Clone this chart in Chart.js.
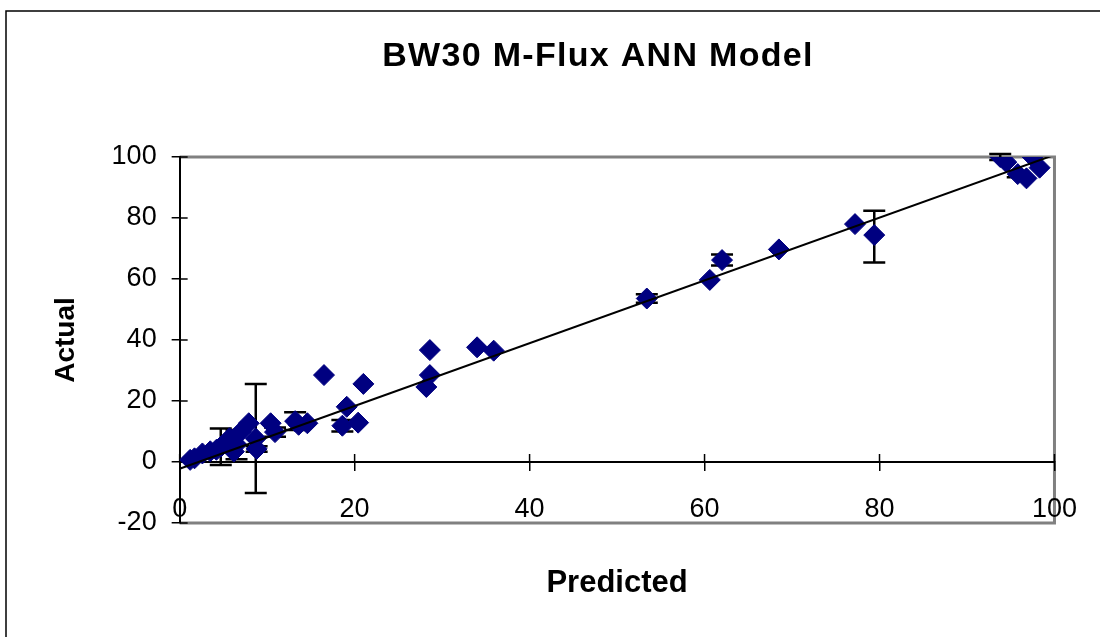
<!DOCTYPE html>
<html>
<head>
<meta charset="utf-8">
<title>BW30 M-Flux ANN Model</title>
<script src="https://cdn.jsdelivr.net/npm/chart.js@4.4.0/dist/chart.umd.min.js"></script>
<style>
  html, body { margin: 0; padding: 0; background: #fff; overflow: hidden; }
  canvas { display: block; }
</style>
</head>
<body>
<canvas id="meuGrafico" width="1100" height="637"></canvas>
<script>
// Valores (Predicted x Actual)
var previsto = [1.2, 1.7, 2.6, 3.5, 4.2, 4.7, 5.3, 5.7, 6.2, 6.5, 7.0, 7.9, 8.7, 8.8, 10.4, 10.9, 13.2, 13.6, 14.6, 16.5,
                18.6, 19.1, 20.4, 21.0, 28.2, 28.6, 28.6, 34.0, 35.9, 53.4, 60.6, 62.0, 68.5, 77.2, 79.4,
                93.8, 94.5, 95.8, 96.8, 97.5, 98.3];
var real     = [0.7, 1.2, 2.8, 3.5, 4.0, 5.0, 6.2, 7.8, 3.4, 5.7, 9.9, 12.7, 7.7, 4.3, 12.7, 9.8, 13.4, 12.2, 12.7, 28.5,
                11.9, 18.1, 12.9, 25.6, 24.6, 28.5, 36.7, 37.6, 36.5, 53.6, 59.7, 66.2, 69.7, 78.0, 74.4,
                100.0, 98.3, 94.4, 93.0, 100.0, 96.5];
// Barras de erro (para cima / para baixo), 0 = sem barra
var erroMais  = [0, 0, 0, 0, 0, 6, 0, 0, 0, 4.8, 0, 0, 17.9, 0.9, 0, 1.5, 2.9, 0, 0, 0,
                 1.9, 0, 0, 0, 0, 0, 0, 0, 0, 1.4, 0, 1.8, 0, 0, 8,
                 1, 0, 1, 0, 0, 0];
var erroMenos = [0, 0, 0, 0, 0, 6, 0, 0, 0, 4.8, 0, 0, 17.9, 0.9, 0, 1.5, 2.9, 0, 0, 0,
                 1.9, 0, 0, 0, 0, 0, 0, 0, 0, 1.4, 0, 1.8, 0, 0, 9,
                 1, 0, 1, 0, 0, 0];
// Linha de tendência
var tendenciaX = [0, 100];
var tendenciaY = [-2.2, 100.7];
// Rótulos dos eixos
var ticksX = [0, 20, 40, 60, 80, 100];
var ticksY = [-20, 0, 20, 40, 60, 80, 100];

var fonte = '"Liberation Sans", Arial, sans-serif';

// Moldura externa e contorno cinza da área do gráfico
var molduraPlugin = {
    id: 'moldura',
    beforeDraw: function (chart) {
        var ctx = chart.ctx;
        var a = chart.chartArea;
        ctx.save();
        ctx.fillStyle = '#fff';
        ctx.fillRect(0, 0, chart.width, chart.height);
        ctx.strokeStyle = '#000';
        ctx.lineWidth = 1.5;
        ctx.strokeRect(6, 11, chart.width + 20, chart.height + 20);
        ctx.strokeStyle = '#808080';
        ctx.lineWidth = 3;
        ctx.beginPath();
        ctx.moveTo(a.left, a.top);
        ctx.lineTo(a.right, a.top);
        ctx.lineTo(a.right, a.bottom);
        ctx.lineTo(a.left, a.bottom);
        ctx.stroke();
        ctx.restore();
    },
    afterDraw: function (chart) {
        // título (centrado como no original)
        var ctx = chart.ctx;
        ctx.save();
        ctx.fillStyle = '#000';
        ctx.font = 'bold 34px ' + fonte;
        ctx.letterSpacing = '1.3px';
        ctx.textAlign = 'center';
        ctx.textBaseline = 'middle';
        ctx.fillText('BW30 M-Flux ANN Model', 598, 57);
        ctx.restore();
    }
};

// Barras de erro e metade interna das marcas dos eixos
var barrasErroPlugin = {
    id: 'barrasErro',
    beforeDatasetsDraw: function (chart) {
        var ctx = chart.ctx;
        var sx = chart.scales.x;
        var sy = chart.scales.y;
        ctx.save();
        ctx.strokeStyle = '#000';
        ctx.lineWidth = 2.5;
        ctx.beginPath();
        previsto.forEach(function (p, i) {
            if (!erroMais[i] && !erroMenos[i]) return;
            var px = sx.getPixelForValue(p);
            var topo = sy.getPixelForValue(real[i] + erroMais[i]);
            var base = sy.getPixelForValue(real[i] - erroMenos[i]);
            ctx.moveTo(px, topo); ctx.lineTo(px, base);
            ctx.moveTo(px - 11, topo); ctx.lineTo(px + 11, topo);
            ctx.moveTo(px - 11, base); ctx.lineTo(px + 11, base);
        });
        ctx.stroke();

        ctx.lineWidth = 1.5;
        ctx.beginPath();
        var y0 = sy.getPixelForValue(0);
        ticksX.forEach(function (v) {
            var px = sx.getPixelForValue(v);
            ctx.moveTo(px, y0); ctx.lineTo(px, y0 - 8);
        });
        ticksY.forEach(function (v) {
            var py = sy.getPixelForValue(v);
            ctx.moveTo(sx.left, py); ctx.lineTo(sx.left + 8, py);
        });
        ctx.stroke();
        ctx.restore();
    }
};

function criarGrafico() {
    var ctx = document.getElementById('meuGrafico').getContext('2d');

    var pontos = previsto.map(function (x, i) { return { x: x, y: real[i] }; });
    var tendencia = tendenciaX.map(function (x, i) { return { x: x, y: tendenciaY[i] }; });

    new Chart(ctx, {
        type: 'scatter',
        data: {
            datasets: [{
                label: 'Tendência',
                type: 'line',
                data: tendencia,
                borderColor: '#000',
                borderWidth: 2,
                pointRadius: 0,
                fill: false,
                order: 0
            }, {
                label: 'Actual',
                data: pontos,
                pointStyle: 'rectRot',
                pointRadius: 10.5,
                pointHoverRadius: 10.5,
                backgroundColor: '#000080',
                borderColor: '#000080',
                borderWidth: 1,
                order: 1
            }]
        },
        options: {
            responsive: false,
            animation: false,
            devicePixelRatio: 1,
            layout: { padding: { left: 6, right: 38, top: 157, bottom: 114 } },
            plugins: {
                legend: { display: false },
                tooltip: { enabled: false },
                title: { display: false }
            },
            scales: {
                x: {
                    type: 'linear',
                    position: { y: 0 },
                    min: 0,
                    max: 100,
                    afterBuildTicks: function (scale) {
                        scale.ticks = ticksX.map(function (v) { return { value: v }; });
                    },
                    grid: { drawOnChartArea: false, drawTicks: true, tickLength: 8, color: '#000', lineWidth: 1.5 },
                    border: { display: true, color: '#000', width: 2 },
                    ticks: { color: '#000', padding: 23, maxRotation: 0, font: { family: fonte, size: 27 } },
                    title: {
                        display: true,
                        text: 'Predicted',
                        color: '#000',
                        padding: { top: 16, bottom: 0 },
                        font: { family: fonte, size: 31, weight: 'bold' }
                    }
                },
                y: {
                    type: 'linear',
                    position: 'left',
                    min: -20,
                    max: 100,
                    afterBuildTicks: function (scale) {
                        scale.ticks = ticksY.map(function (v) { return { value: v }; });
                    },
                    grid: { drawOnChartArea: false, drawTicks: true, tickLength: 8, color: '#000', lineWidth: 1.5 },
                    border: { display: true, color: '#000', width: 2 },
                    ticks: { color: '#000', padding: 15, font: { family: fonte, size: 27 } },
                    title: {
                        display: true,
                        text: 'Actual',
                        color: '#000',
                        padding: { top: 43, bottom: 14 },
                        font: { family: fonte, size: 28, weight: 'bold' }
                    }
                }
            }
        },
        plugins: [molduraPlugin, barrasErroPlugin]
    });
}

criarGrafico();
</script>
</body>
</html>
